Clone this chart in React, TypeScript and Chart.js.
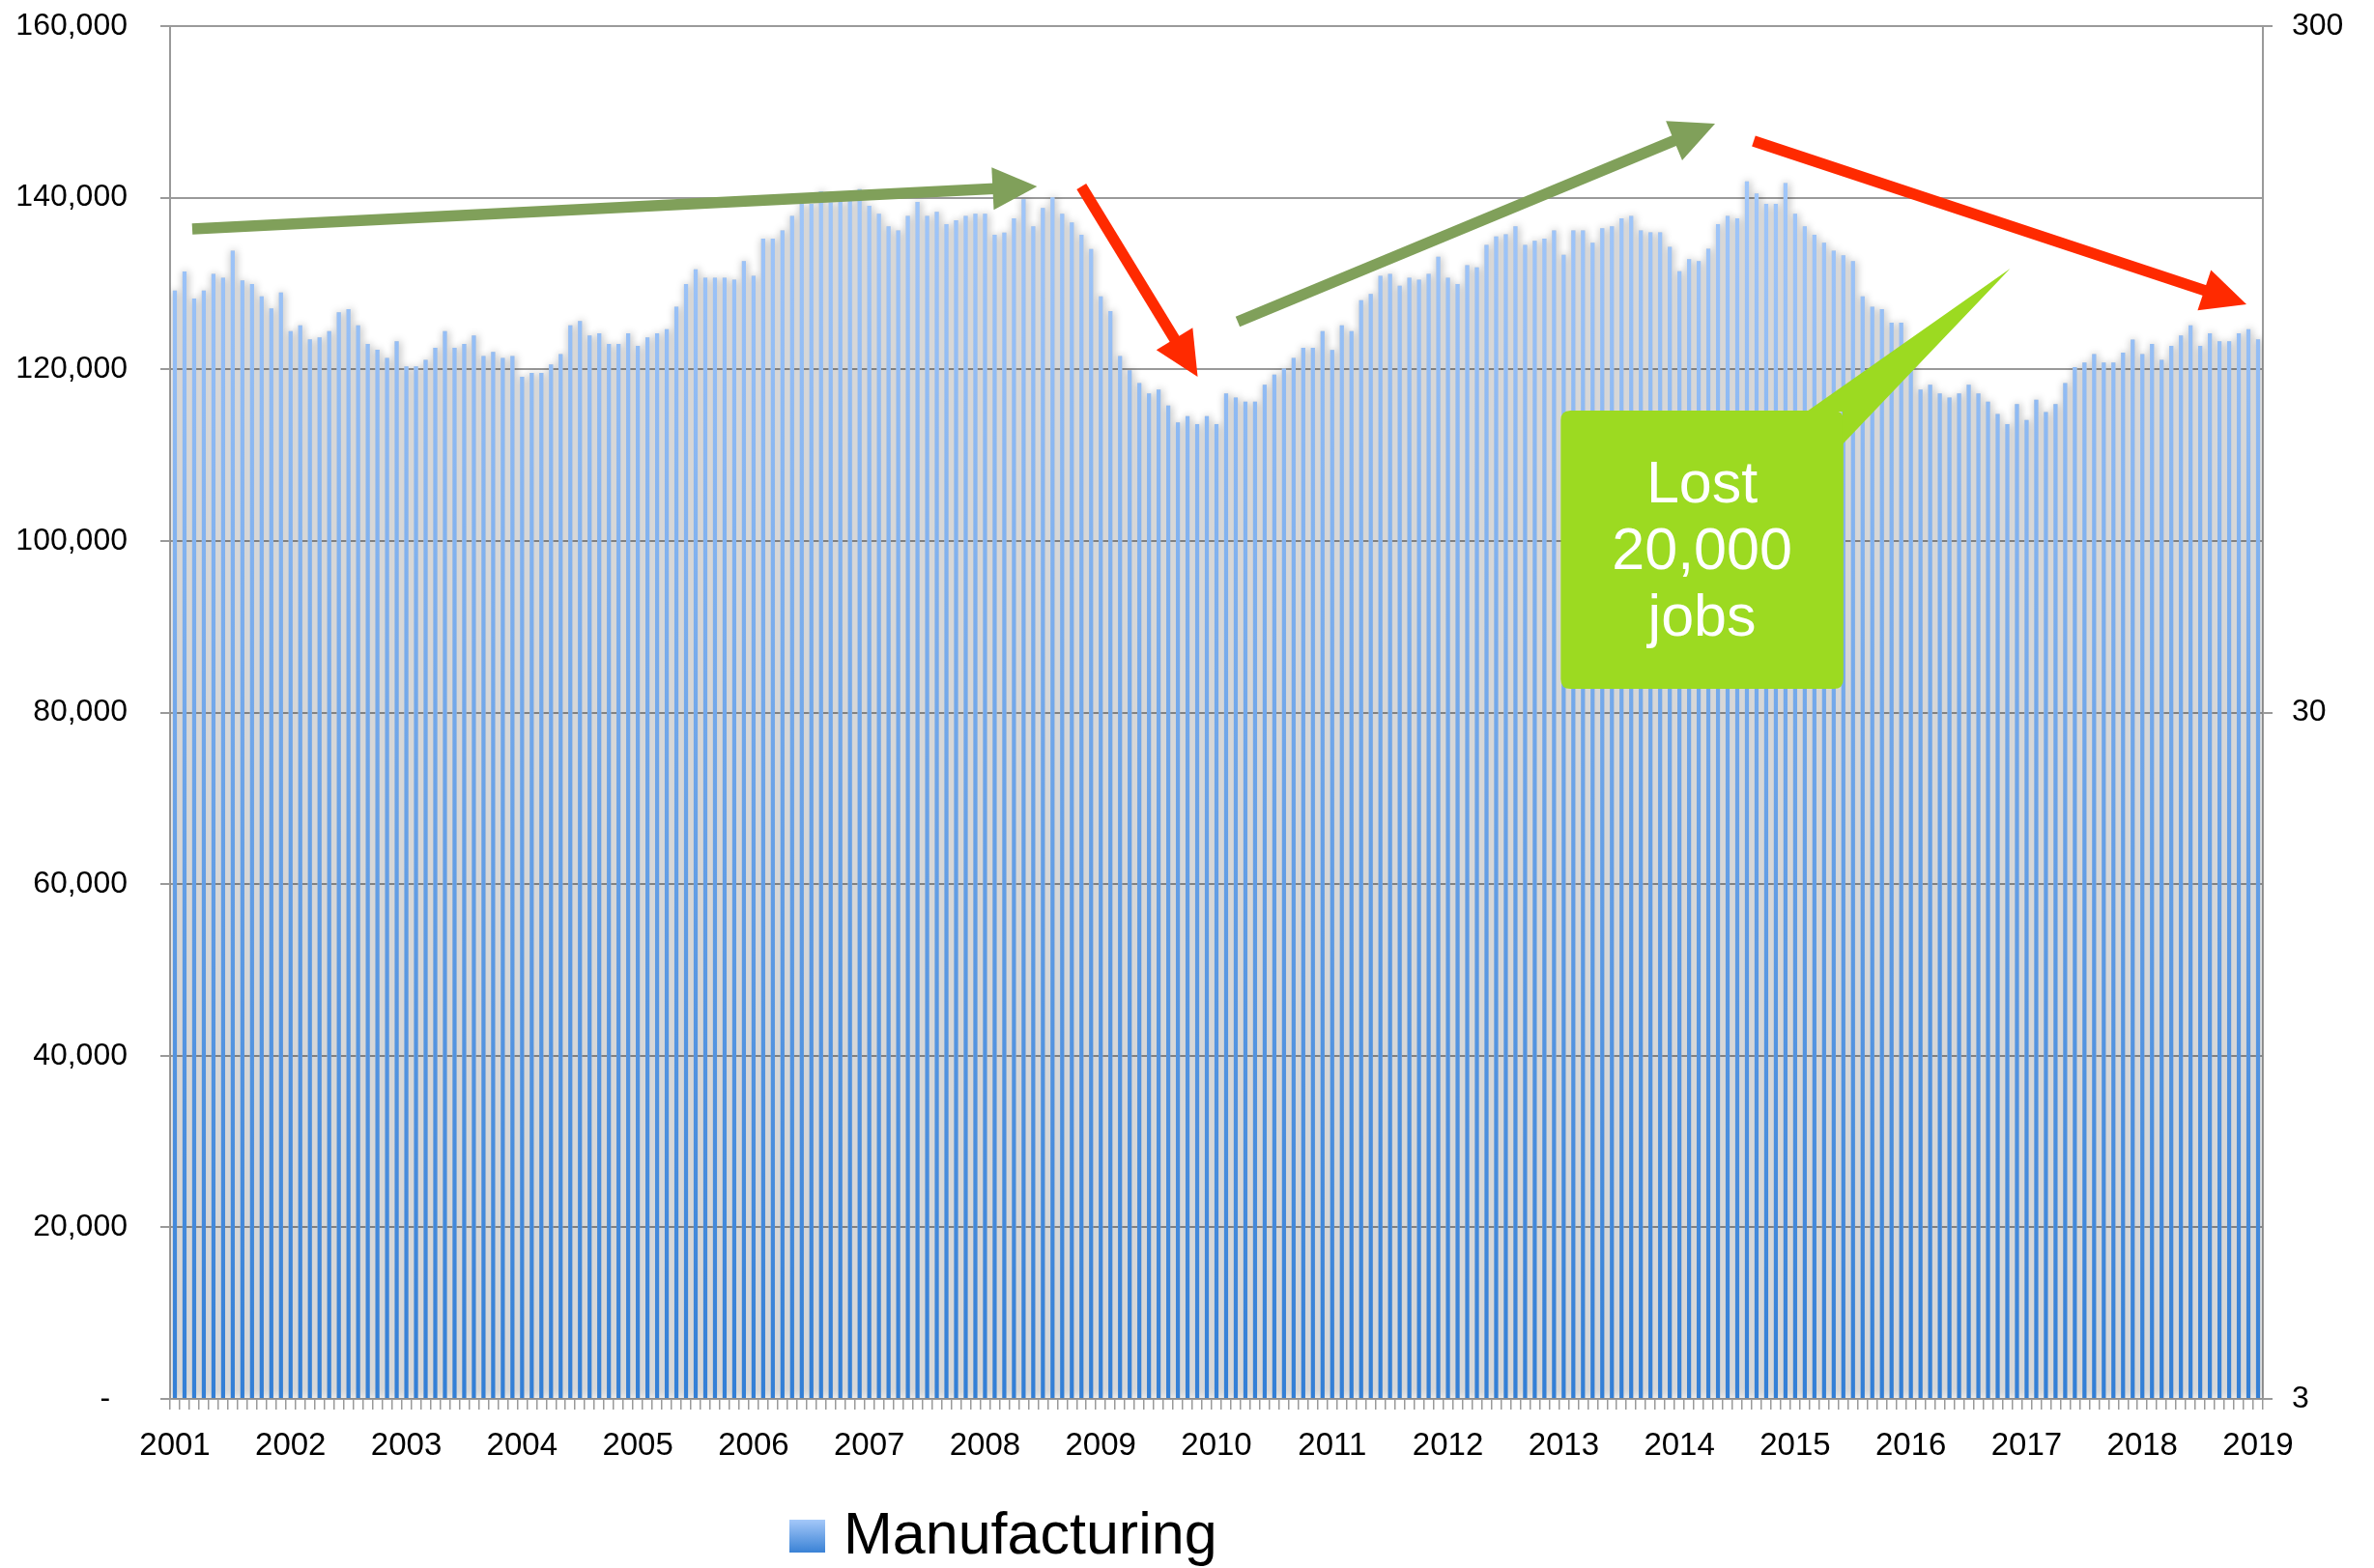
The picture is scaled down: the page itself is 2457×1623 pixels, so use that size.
import React, { useEffect, useRef } from "react";
import { Chart, registerables } from "chart.js";

Chart.register(...registerables);

const W = 2457;
const H = 1623;

// ---- data ----
const years = ["2001", "2002", "2003", "2004", "2005", "2006", "2007", "2008", "2009", "2010", "2011", "2012", "2013", "2014", "2015", "2016", "2017", "2018", "2019"];
const monthNames = ["Jan", "Feb", "Mar", "Apr", "May", "Jun", "Jul", "Aug", "Sep", "Oct", "Nov", "Dec"];

const y2001 = [129180, 131390, 128240, 129180, 131120, 130670, 133820, 130370, 129930, 128500, 127080, 128950];
const y2002 = [124460, 125130, 123480, 123710, 124460, 126630, 127000, 125130, 122960, 122290, 121310, 123260];
const y2003 = [120340, 120340, 121090, 122510, 124460, 122510, 122960, 123930, 121540, 122020, 121310, 121540];
const y2004 = [119140, 119590, 119590, 120560, 121760, 125130, 125620, 123930, 124200, 122960, 122960, 124200];
const y2005 = [122740, 123710, 124200, 124680, 127300, 129930, 131650, 130670, 130670, 130670, 130450, 132620];
const y2006 = [130900, 135240, 135240, 136180, 137870, 139290, 139290, 140750, 139440, 139550, 139740, 141010];
const y2007 = [139060, 138130, 136670, 136180, 137870, 139510, 137870, 138350, 136930, 137380, 137870, 138130];
const y2008 = [138130, 135690, 135920, 137600, 139810, 136670, 138800, 140040, 138130, 137120, 135690, 134010];
const y2009 = [128500, 126780, 121540, 119890, 118390, 117190, 117640, 115770, 113820, 114530, 113600, 114530];
const y2010 = [113600, 117190, 116710, 116220, 116220, 118210, 119370, 120080, 121310, 122510, 122510, 124460];
const y2011 = [122250, 125130, 124460, 128050, 128770, 130900, 131120, 129740, 130670, 130450, 131120, 133110];
const y2012 = [130670, 129930, 132140, 131870, 134490, 135470, 135730, 136670, 134490, 134980, 135240, 136180];
const y2013 = [133330, 136180, 136180, 134760, 136440, 136670, 137600, 137870, 136180, 135960, 135960, 134270];
const y2014 = [131420, 132850, 132620, 134050, 136930, 137870, 137600, 141910, 140490, 139290, 139290, 141690];
const y2015 = [138130, 136670, 135690, 134760, 133820, 133300, 132620, 128500, 127300, 127000, 125430, 125430];
const y2016 = [121500, 117640, 118210, 117190, 116710, 117190, 118210, 117190, 116220, 114800, 113600, 115960];
const y2017 = [114090, 116440, 115020, 115960, 118390, 120260, 120790, 121760, 120790, 120790, 121950, 123450];
const y2018 = [121760, 122960, 121090, 122740, 123930, 125130, 122740, 124200, 123260, 123260, 124200, 124680];
const y2019 = [123480];

const manufacturing = [
  ...y2001, ...y2002, ...y2003, ...y2004, ...y2005, ...y2006, ...y2007, ...y2008, ...y2009, ...y2010,
  ...y2011, ...y2012, ...y2013, ...y2014, ...y2015, ...y2016, ...y2017, ...y2018, ...y2019,
];
const categories = manufacturing.map((_, i) => `${monthNames[i % 12]} ${years[Math.floor(i / 12)]}`);

const leftTicks = [0, 20000, 40000, 60000, 80000, 100000, 120000, 140000, 160000];
const rightTicks = [3, 30, 300];
const seriesLabel = "Manufacturing";

// annotations in data space: [category index, value]
const trendArrows = [
  { from: [1.8, 136360], to: [89.4, 141310], color: "#80a05a" },
  { from: [94.0, 141310], to: [106.05, 119130], color: "#ff2a00" },
  { from: [110.2, 125550], to: [159.7, 148630], color: "#80a05a" },
  { from: [163.7, 146600], to: [214.8, 127580], color: "#ff2a00" },
];
const callout = {
  left: 143.7,
  right: 173.0,
  top: 115190,
  bottom: 82760,
  base1: [169.2, 115190],
  base2: [173.0, 111250],
  tip: [190.3, 131740],
  lines: ["Lost", "20,000", "jobs"],
  color: "#9cda21",
};

const FONT = "'Liberation Sans', Arial, Helvetica, sans-serif";
const GRID = "#9a9a9a";

function drawArrow(ctx: CanvasRenderingContext2D, x1: number, y1: number, x2: number, y2: number, color: string) {
  const dx = x2 - x1;
  const dy = y2 - y1;
  const len = Math.hypot(dx, dy);
  const ux = dx / len;
  const uy = dy / len;
  const headLen = 46;
  const headHalf = 22;
  const bx = x2 - ux * headLen;
  const by = y2 - uy * headLen;
  ctx.strokeStyle = color;
  ctx.fillStyle = color;
  ctx.lineWidth = 11.5;
  ctx.lineCap = "butt";
  ctx.beginPath();
  ctx.moveTo(x1, y1);
  ctx.lineTo(bx + ux * 2, by + uy * 2);
  ctx.stroke();
  ctx.beginPath();
  ctx.moveTo(x2, y2);
  ctx.lineTo(bx - uy * headHalf, by + ux * headHalf);
  ctx.lineTo(bx + uy * headHalf, by - ux * headHalf);
  ctx.closePath();
  ctx.fill();
}

const shadowPlugin = {
  id: "barShadow",
  beforeDatasetDraw(chart: any, args: any) {
    if (chart.data.datasets[args.index].isShadow) {
      const ctx = chart.ctx;
      ctx.save();
      ctx.shadowColor = "rgba(0,0,0,0.40)";
      ctx.shadowBlur = 9;
      ctx.shadowOffsetX = 1;
      ctx.shadowOffsetY = 0;
    }
  },
  afterDatasetDraw(chart: any, args: any) {
    if (chart.data.datasets[args.index].isShadow) {
      chart.ctx.restore();
    }
  },
};

const annotationPlugin = {
  id: "annotations",
  afterDatasetsDraw(chart: any) {
    const { ctx } = chart;
    const x = chart.scales.x;
    const y = chart.scales.y;
    const px = (v: number) => x.getPixelForValue(v);
    const py = (v: number) => y.getPixelForValue(v);
    ctx.save();

    // callout box
    const l = px(callout.left);
    const r = px(callout.right);
    const t = py(callout.top);
    const b = py(callout.bottom);
    const rad = 10;
    ctx.fillStyle = callout.color;
    ctx.beginPath();
    ctx.moveTo(l + rad, t);
    ctx.lineTo(r - rad, t);
    ctx.quadraticCurveTo(r, t, r, t + rad);
    ctx.lineTo(r, b - rad);
    ctx.quadraticCurveTo(r, b, r - rad, b);
    ctx.lineTo(l + rad, b);
    ctx.quadraticCurveTo(l, b, l, b - rad);
    ctx.lineTo(l, t + rad);
    ctx.quadraticCurveTo(l, t, l + rad, t);
    ctx.closePath();
    ctx.fill();
    ctx.beginPath();
    ctx.moveTo(px(callout.base1[0]), py(callout.base1[1]) + 1);
    ctx.lineTo(px(callout.tip[0]), py(callout.tip[1]));
    ctx.lineTo(px(callout.base2[0]) - 1, py(callout.base2[1]));
    ctx.lineTo(r - 1, t + 1);
    ctx.closePath();
    ctx.fill();

    ctx.fillStyle = "#ffffff";
    ctx.font = `61px ${FONT}`;
    ctx.textAlign = "center";
    ctx.textBaseline = "alphabetic";
    const cx = (l + r) / 2;
    const cy = (t + b) / 2;
    callout.lines.forEach((line, k) => {
      ctx.fillText(line, cx, cy + (k - 1) * 69 + 20);
    });

    for (const a of trendArrows) {
      drawArrow(ctx, px(a.from[0]), py(a.from[1]), px(a.to[0]), py(a.to[1]), a.color);
    }
    ctx.restore();
  },
  afterDraw(chart: any) {
    const { ctx } = chart;
    ctx.save();
    const sx = 817;
    const sy = 1573;
    const g = ctx.createLinearGradient(0, sy, 0, sy + 34);
    g.addColorStop(0, "#a4c8f9");
    g.addColorStop(1, "#3a82d5");
    ctx.fillStyle = g;
    ctx.fillRect(sx, sy, 37, 34);
    ctx.fillStyle = "#000000";
    ctx.font = `61px ${FONT}`;
    ctx.textAlign = "left";
    ctx.textBaseline = "alphabetic";
    ctx.fillText(seriesLabel, 873, 1608);
    ctx.restore();
  },
};

function barGradient(context: any) {
  const chart = context.chart;
  const ca = chart.chartArea;
  if (!ca) return "#7aaee9";
  const g = chart.ctx.createLinearGradient(0, ca.top, 0, ca.bottom);
  g.addColorStop(0, "#a9cdfc");
  g.addColorStop(0.18, "#9bc2f7");
  g.addColorStop(1, "#337fd6");
  return g;
}

export default function App() {
  const ref = useRef<HTMLCanvasElement | null>(null);

  useEffect(() => {
    if (!ref.current) return;
    Chart.defaults.font.family = FONT;
    Chart.defaults.color = "#000000";
    const chart = new Chart(ref.current, {
      type: "bar",
      data: {
        labels: categories,
        datasets: [
          {
            label: seriesLabel,
            data: manufacturing,
            backgroundColor: barGradient,
            borderWidth: 0,
            barPercentage: 0.42,
            categoryPercentage: 1,
            grouped: false,
            order: 0,
            yAxisID: "y",
          } as any,
          {
            label: seriesLabel + " shadow",
            isShadow: true,
            data: manufacturing,
            backgroundColor: "#cfcfcf",
            borderWidth: 0,
            barPercentage: 0.42,
            categoryPercentage: 1,
            grouped: false,
            order: 1,
            yAxisID: "y",
          } as any,
        ],
      },
      options: {
        responsive: false,
        devicePixelRatio: 1,
        animation: false,
        events: [],
        layout: { padding: { top: 27, left: 0, right: 0, bottom: 0 } },
        plugins: {
          legend: { display: false },
          tooltip: { enabled: false },
          title: { display: false },
        },
        scales: {
          x: {
            type: "category",
            offset: true,
            grid: {
              display: true,
              drawOnChartArea: false,
              drawTicks: true,
              tickLength: 11,
              color: GRID,
              lineWidth: 1.5,
              offset: true,
            },
            border: { display: true, color: GRID, width: 2 },
            ticks: {
              autoSkip: false,
              maxRotation: 0,
              minRotation: 0,
              padding: 18,
              font: { size: 33 },
              color: "#000",
              callback: (_v: any, i: number) => (i % 12 === 0 ? years[i / 12] : ""),
            },
            afterFit: (s: any) => {
              s.height = H - 1448;
              s.paddingLeft = 0;
              s.paddingRight = 0;
            },
          },
          y: {
            type: "linear",
            position: "left",
            min: 0,
            max: 160000,
            grid: { color: GRID, lineWidth: 2, drawTicks: true, tickLength: 10 },
            border: { display: true, color: GRID, width: 2 },
            ticks: {
              padding: 34,
              font: { size: 32 },
              color: "#000",
              callback: (v: any) => (v === 0 ? "-  " : Number(v).toLocaleString("en-US")),
            },
            afterBuildTicks: (s: any) => {
              s.ticks = leftTicks.map((v) => ({ value: v }));
            },
            afterFit: (s: any) => {
              s.width = 176;
              s.paddingTop = 0;
              s.paddingBottom = 0;
            },
          },
          y2: {
            type: "logarithmic",
            position: "right",
            min: 3,
            max: 300,
            grid: { drawOnChartArea: false, drawTicks: true, tickLength: 10, color: GRID, lineWidth: 2 },
            border: { display: true, color: GRID, width: 2 },
            ticks: {
              padding: 20,
              font: { size: 32 },
              color: "#000",
              callback: (v: any) => String(v),
            },
            afterBuildTicks: (s: any) => {
              s.ticks = rightTicks.map((v) => ({ value: v }));
            },
            afterFit: (s: any) => {
              s.width = W - 2342;
              s.paddingTop = 0;
              s.paddingBottom = 0;
            },
          },
        },
      } as any,
      plugins: [shadowPlugin, annotationPlugin],
    });
    return () => chart.destroy();
  }, []);

  return (
    <div style={{ position: "fixed", left: 0, top: 0, width: W, height: H, background: "#ffffff" }}>
      <canvas ref={ref} width={W} height={H} style={{ display: "block", width: W, height: H }} />
    </div>
  );
}
